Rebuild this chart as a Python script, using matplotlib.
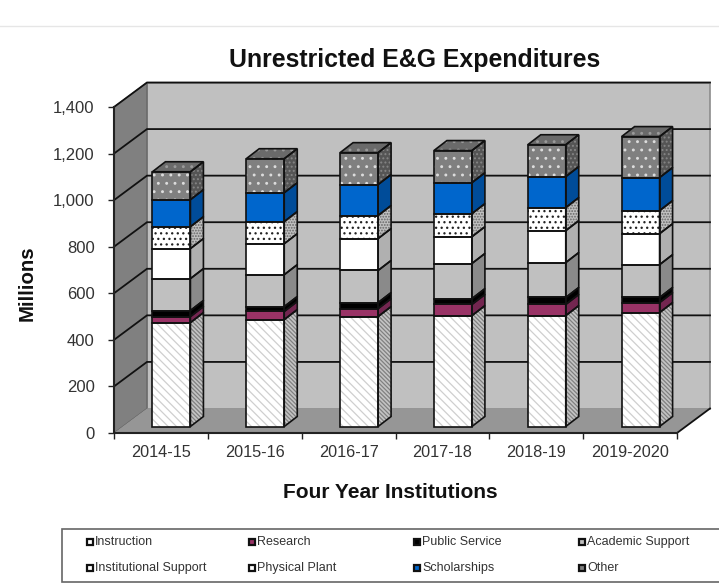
import matplotlib
matplotlib.use("Agg")
import matplotlib.pyplot as plt
from matplotlib.patches import Polygon, Rectangle

plt.rcParams['font.family'] = ['Liberation Sans', 'DejaVu Sans']
plt.rcParams['hatch.linewidth'] = 0.9

years = ["2014-15", "2015-16", "2016-17", "2017-18", "2018-19", "2019-2020"]
labels = ["Instruction", "Research", "Public Service", "Academic Support",
          "Institutional Support", "Physical Plant", "Scholarships", "Other"]
instruction = [446, 459, 472, 476, 476, 489]
research = [26, 35, 34, 48, 48, 43]
public_service = [26, 21, 26, 25, 30, 22]
academic = [137, 137, 138, 151, 150, 141]
institutional = [129, 133, 137, 115, 137, 133]
physical = [94, 95, 99, 99, 99, 99]
scholarships = [116, 124, 133, 133, 133, 142]
other = [120, 146, 137, 138, 137, 176]
yticks = [0, 200, 400, 600, 800, 1000, 1200, 1400]

series = [instruction, research, public_service, academic,
          institutional, physical, scholarships, other]
# front colour, side colour, hatch, hatch colour, side hatch colour
styles = [("#ffffff", "#c4c4c4", "\\\\\\\\", "#cfcfcf", "#808080"),
          ("#993366", "#732650", None, None, None),
          ("#000000", "#000000", None, None, None),
          ("#c0c0c0", "#8a8a8a", None, None, None),
          ("#ffffff", "#b0b0b0", None, None, None),
          ("#ffffff", "#c0c0c0", "...", "#222222", "#666666"),
          ("#0066cc", "#004c99", None, None, None),
          ("#808080", "#555555", "..", "#dddddd", "#858585")]

W, H = 719, 588
fig = plt.figure(figsize=(W / 100, H / 100), dpi=100)
x0, x1, ytop, ybot = 114, 677, 107, 433
ax = fig.add_axes([x0 / W, 1 - ybot / H, (x1 - x0) / W, (ybot - ytop) / H])
ax.set_xlim(0, len(years))
ax.set_ylim(0, 1400)
ax.patch.set_visible(False)
for s in ax.spines.values():
    s.set_visible(False)

# data units per pixel, so depth can be given in pixels
ux = len(years) / (x1 - x0)
uy = 1400 / (ybot - ytop)
DX, DY = 33 * ux, 24.5 * uy
N = len(years)
Y = 1400


def poly(pts, **kw):
    kw.setdefault("clip_on", False)
    ax.add_patch(Polygon(pts, closed=True, **kw))


# walls and floor
poly([(DX, DY), (N + DX, DY), (N + DX, Y + DY), (DX, Y + DY)], fc="#c0c0c0", ec="#8c8c8c", lw=1.2, zorder=1)
poly([(0, 0), (DX, DY), (DX, Y + DY), (0, Y)], fc="#808080", ec="#606060", lw=0.8, zorder=1.1)
poly([(0, 0), (N, 0), (N + DX, DY), (DX, DY)], fc="#969696", ec="none", zorder=1.2)

for t in yticks[1:]:
    ax.plot([0, DX, N + DX], [t, t + DY, t + DY], color="#111111", lw=1.3, clip_on=False, zorder=1.5, solid_joinstyle="miter")
ax.plot([N, N + DX], [0, DY], color="#111111", lw=1.3, clip_on=False, zorder=1.5)
ax.plot([0, 0, N], [Y, 0, 0], color="#222222", lw=1.5, clip_on=False, zorder=1.6)

# bars
bw = 38 * ux
ox, oy = 10.5 * ux, 6.5 * uy
sx, sy = 13 * ux, 10 * uy
for i in range(N):
    left = i + 0.5 - bw / 2 + ox
    right = left + bw
    base = oy
    z = 3 + i
    for vals, st in zip(series, styles):
        top = base + vals[i]
        fc, side, hatch, hc, shc = st
        front = [(left, base), (right, base), (right, top), (left, top)]
        sidep = [(right, base), (right + sx, base + sy), (right + sx, top + sy), (right, top)]
        poly(front, fc=fc, ec="none", zorder=z)
        poly(sidep, fc=side, ec="none", zorder=z)
        if hatch:
            poly(front, fc="none", ec=hc, hatch=hatch, lw=0, zorder=z)
            poly(sidep, fc="none", ec=shc, hatch=hatch * 2, lw=0, zorder=z)
        poly(front, fc="none", ec="#111111", lw=1.2, zorder=z + 0.1, joinstyle="miter")
        poly(sidep, fc="none", ec="#111111", lw=1.2, zorder=z + 0.1, joinstyle="miter")
        base = top
    # lid uses the colour of the last series
    lid = [(left, base), (right, base), (right + sx, base + sy), (left + sx, base + sy)]
    poly(lid, fc="#6a6a6a", ec="none", zorder=z)
    poly(lid, fc="none", ec="#9a9a9a", hatch="..", lw=0, zorder=z)
    poly(lid, fc="none", ec="#111111", lw=1.2, zorder=z + 0.1, joinstyle="miter")

ax.set_yticks(yticks)
ax.set_yticklabels(["{:,}".format(t) for t in yticks], fontsize=12, color="#333333")
ax.set_xticks(range(N + 1))
ax.set_xticklabels([""] * (N + 1))
ax.tick_params(axis="both", length=4, width=1, color="#222222")
ax.tick_params(axis="y", pad=10)
for i, yr in enumerate(years):
    ax.text(i + 0.5, -82, yr, ha="center", va="center", fontsize=11.7, color="#333333", clip_on=False)

fig.text(415 / W, 1 - 60 / H, "Unrestricted E&G Expenditures", ha="center", va="center", fontsize=17.9, fontweight="bold", color="#111111")
fig.text(27 / W, 1 - 283 / H, "Millions", ha="center", va="center", rotation=90, fontsize=14.7, fontweight="bold", color="#111111")
fig.text(390 / W, 1 - 493 / H, "Four Year Institutions", ha="center", va="center", fontsize=15, fontweight="bold", color="#111111")

# top rule of the page
fig.add_artist(plt.Line2D([0, 1], [1 - 26 / H] * 2, color="#e6e6e6", lw=1))

# legend box, runs off the right side of the image
fig.add_artist(Rectangle((62 / W, 1 - 582 / H), (W + 5 - 62) / W, 53 / H, transform=fig.transFigure,
                         fc="white", ec="#666666", lw=1.2))
col_x = [87, 249, 414, 579]
row_y = [542, 568]
for n, name in enumerate(labels):
    cx, cy = col_x[n % 4], row_y[n // 4]
    fc = styles[n][0]
    fig.add_artist(Rectangle((cx / W, 1 - (cy + 3) / H), 6 / W, 6 / H, transform=fig.transFigure,
                             fc=fc, ec="#111111", lw=1.6))
    fig.text((cx + 8) / W, 1 - cy / H, name, ha="left", va="center", fontsize=9, color="#333333")

fig.savefig("out.png", dpi=100)
